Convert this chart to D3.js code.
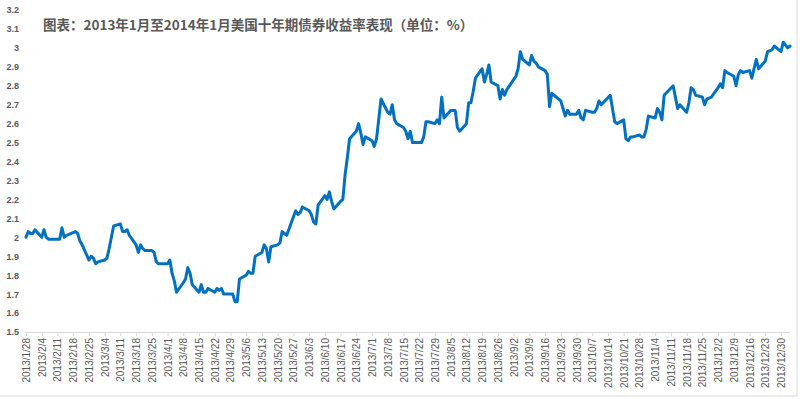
<!DOCTYPE html>
<html>
<head>
<meta charset="utf-8">
<script src="https://cdn.jsdelivr.net/npm/d3@7"></script>
<style>
  body { margin: 0; background: #fff; }
  svg { display: block; font-family: "Liberation Sans", Arial, sans-serif; }
</style>
</head>
<body>
<div id="chart"></div>
<script>
var title = "图表：2013年1月至2014年1月美国十年期债券收益率表现（单位：%）";

// trading days, month by month
var days2013 = [
  ["2013-01", [28, 29, 30, 31]],
  ["2013-02", [1, 4, 5, 6, 7, 8, 11, 12, 13, 14, 15, 19, 20, 21, 22, 25, 26, 27, 28]],
  ["2013-03", [1, 4, 5, 6, 7, 8, 11, 12, 13, 14, 15, 18, 19, 20, 21, 22, 25, 26, 27, 28]],
  ["2013-04", [1, 2, 3, 4, 5, 8, 9, 10, 11, 12, 15, 16, 17, 18, 19, 22, 23, 24, 25, 26, 29, 30]],
  ["2013-05", [1, 2, 3, 6, 7, 8, 9, 10, 13, 14, 15, 16, 17, 20, 21, 22, 23, 24, 28, 29, 30, 31]],
  ["2013-06", [3, 4, 5, 6, 7, 10, 11, 12, 13, 14, 17, 18, 19, 20, 21, 24, 25, 26, 27, 28]],
  ["2013-07", [1, 2, 3, 5, 8, 9, 10, 11, 12, 15, 16, 17, 18, 19, 22, 23, 24, 25, 26, 29, 30, 31]],
  ["2013-08", [1, 2, 5, 6, 7, 8, 9, 12, 13, 14, 15, 16, 19, 20, 21, 22, 23, 26, 27, 28, 29, 30]],
  ["2013-09", [3, 4, 5, 6, 9, 10, 11, 12, 13, 16, 17, 18, 19, 20, 23, 24, 25, 26, 27, 30]],
  ["2013-10", [1, 2, 3, 4, 7, 8, 9, 10, 11, 15, 16, 17, 18, 21, 22, 23, 24, 25, 28, 29, 30, 31]],
  ["2013-11", [1, 4, 5, 6, 7, 8, 12, 13, 14, 15, 18, 19, 20, 21, 22, 25, 26, 27, 29]],
  ["2013-12", [2, 3, 4, 5, 6, 9, 10, 11, 12, 13, 16, 17, 18, 19, 20, 23, 24, 26, 27, 30, 31]],
  ["2014-01", [2, 3]]
];

var yields = [
  2.00, 2.03, 2.02, 2.02,
  2.04, 2.00, 2.04, 2.00, 1.99, 1.99, 1.99, 1.99, 2.05, 2.00, 2.01, 2.03, 2.02, 1.98, 1.96, 1.88, 1.90, 1.89, 1.86,
  1.87, 1.88, 1.89, 1.94, 2.00, 2.06, 2.07, 2.03, 2.03, 2.04, 2.01, 1.96, 1.92, 1.96, 1.94, 1.93, 1.93, 1.92, 1.87, 1.86,
  1.86, 1.88, 1.81, 1.77, 1.71, 1.76, 1.78, 1.84, 1.81, 1.75, 1.71, 1.75, 1.71, 1.71, 1.73, 1.71, 1.73, 1.72, 1.73, 1.70, 1.70, 1.70,
  1.66, 1.66, 1.78, 1.80, 1.82, 1.81, 1.81, 1.90, 1.92, 1.96, 1.94, 1.87, 1.95, 1.96, 1.97, 2.03, 2.02, 2.01, 2.14, 2.12, 2.13, 2.16,
  2.14, 2.12, 2.08, 2.07, 2.17, 2.22, 2.20, 2.24, 2.19, 2.15, 2.19, 2.20, 2.33, 2.42, 2.52, 2.56, 2.60, 2.55, 2.49, 2.53,
  2.51, 2.48, 2.52, 2.73, 2.66, 2.65, 2.70, 2.62, 2.60, 2.58, 2.56, 2.52, 2.56, 2.50, 2.50, 2.50, 2.53, 2.61, 2.61, 2.60, 2.62, 2.60,
  2.74, 2.63, 2.67, 2.67, 2.67, 2.58, 2.56, 2.60, 2.71, 2.71, 2.77, 2.84, 2.89, 2.82, 2.86, 2.91, 2.82, 2.80, 2.73, 2.78, 2.75, 2.78,
  2.85, 2.89, 2.98, 2.94, 2.91, 2.96, 2.93, 2.92, 2.90, 2.88, 2.86, 2.69, 2.76, 2.75, 2.72, 2.68, 2.64, 2.67, 2.65, 2.65,
  2.67, 2.63, 2.62, 2.67, 2.66, 2.66, 2.68, 2.72, 2.70, 2.75, 2.68, 2.61, 2.60, 2.62, 2.52, 2.51, 2.53, 2.53, 2.54, 2.53, 2.53, 2.57,
  2.64, 2.63, 2.68, 2.66, 2.62, 2.75, 2.80, 2.74, 2.68, 2.70, 2.66, 2.71, 2.79, 2.78, 2.75, 2.74, 2.70, 2.73, 2.74,
  2.79, 2.81, 2.79, 2.88, 2.87, 2.85, 2.80, 2.86, 2.88, 2.87, 2.88, 2.84, 2.89, 2.94, 2.89, 2.93, 2.98, 2.99, 3.01, 2.98, 3.03,
  3.00, 3.01
];

var yTicks = d3.range(15, 33).map(d => d / 10);

var parseDate = d3.timeParse("%Y-%m-%d");
var dates = [];
days2013.forEach(function(m) {
  m[1].forEach(function(d) {
    dates.push(parseDate(m[0] + "-" + String(d).padStart(2, "0")));
  });
});

var data = dates.map((d, i) => ({ date: d, value: yields[i] }));

var svgWidth = 800;
var svgHeight = 399;

var svg = d3.select("#chart")
  .append("svg")
  .attr("width", svgWidth)
  .attr("height", svgHeight);

// chart area border
svg.append("rect")
  .attr("x", -1)
  .attr("y", -1)
  .attr("width", 798)
  .attr("height", 397)
  .attr("fill", "#fff")
  .attr("stroke", "#d9d9d9");

var x = d3.scaleTime()
  .domain([parseDate("2013-01-28"), parseDate("2014-01-03")])
  .range([26, 790]);

var y = d3.scaleLinear()
  .domain([1.5, 3.2])
  .range([332, 10]);

// y axis (labels only)
var yAxis = svg.append("g")
  .attr("transform", "translate(25,0)")
  .call(d3.axisLeft(y).tickValues(yTicks).tickSize(0).tickPadding(6)
    .tickFormat(d => String(+d.toFixed(1))));
yAxis.select(".domain").remove();
yAxis.selectAll("text")
  .attr("font-size", "9px")
  .attr("font-weight", "bold")
  .attr("fill", "#595959");

// x axis
var weekTicks = d3.timeMonday.range(parseDate("2013-01-28"), parseDate("2013-12-31"));
var xAxis = svg.append("g")
  .attr("transform", "translate(0,332)")
  .call(d3.axisBottom(x).tickValues(weekTicks).tickSize(4)
    .tickFormat(d3.timeFormat("%Y/%-m/%-d")));
xAxis.select(".domain")
  .attr("stroke", "#d9d9d9")
  .attr("d", "M25,0.5H790");
xAxis.selectAll(".tick line").attr("stroke", "#d9d9d9");
xAxis.selectAll("text")
  .attr("transform", "rotate(-90)")
  .attr("x", -6)
  .attr("y", 0)
  .attr("dy", "0.35em")
  .attr("text-anchor", "end")
  .attr("font-size", "10px")
  .attr("fill", "#595959");

// line
var line = d3.line()
  .x(d => x(d.date))
  .y(d => y(d.value));

svg.append("path")
  .datum(data)
  .attr("d", line)
  .attr("fill", "none")
  .attr("stroke", "#0070c0")
  .attr("stroke-width", 3)
  .attr("stroke-linejoin", "round")
  .attr("stroke-linecap", "round");

// title
svg.append("text")
  .attr("x", 43)
  .attr("y", 30)
  .attr("font-family", "'Noto Sans CJK SC', sans-serif")
  .attr("font-size", "13.5px")
  .attr("font-weight", "bold")
  .attr("fill", "#595959")
  .text(title);
</script>
</body>
</html>
